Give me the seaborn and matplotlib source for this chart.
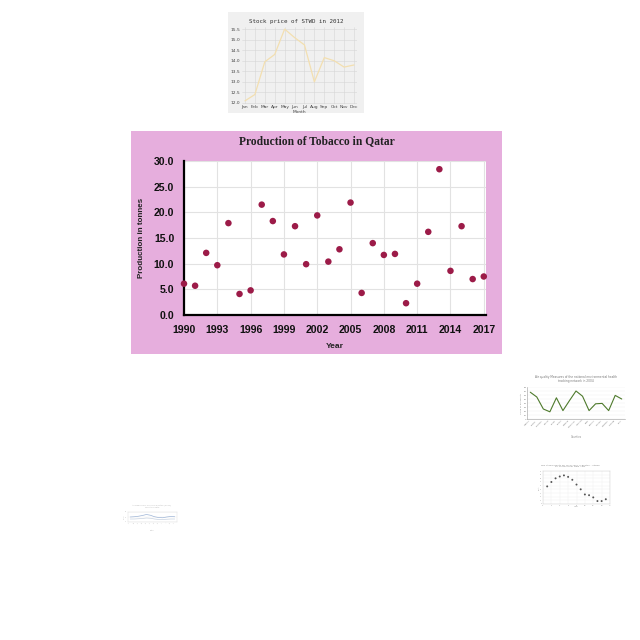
import matplotlib
matplotlib.use("Agg")
import matplotlib.pyplot as plt
import seaborn as sns
import pandas as pd
from matplotlib.patches import Rectangle

# ---------------- data ----------------
years = list(range(1990, 2018))
production = [6.1, 5.7, 12.1, 9.7, 17.9, 4.1, 4.8, 21.5, 18.3, 11.8, 17.3, 9.9,
              19.4, 10.4, 12.8, 21.9, 4.3, 14.0, 11.7, 11.9, 2.3, 6.1, 16.2, 28.4,
              8.6, 17.3, 7.0, 7.5]
year_ticks = [1990, 1993, 1996, 1999, 2002, 2005, 2008, 2011, 2014, 2017]
prod_ticks = [0, 5, 10, 15, 20, 25, 30]

months = ["Jan", "Feb", "Mar", "Apr", "May", "Jun", "Jul", "Aug", "Sep", "Oct", "Nov", "Dec"]
stock = [12.1, 12.4, 13.95, 14.3, 15.5, 15.1, 14.75, 13.0, 14.15, 14.0, 13.7, 13.8]
stock_ticks = [12.0, 12.5, 13.0, 13.5, 14.0, 14.5, 15.0, 15.5]

aq_counties = ["Adams", "Bristol", "Clayton", "Dallas", "Essex", "Fulton", "Greene",
               "Hamilton", "Jackson", "Kent", "Lincoln", "Marion", "Newton", "Orange", "Polk"]
aq_values = [67, 55, 25, 18, 53, 21, 46, 70, 57, 21, 38, 39, 21, 59, 50]

rent_x = list(range(1, 16))
rent_y = [48, 60, 70, 75, 78, 74, 66, 53, 40, 26, 24, 18, 8, 8, 13]

tiny_x = ["A", "B", "C", "D", "E", "F", "G", "H", "I", "J", "K", "L"]
tiny_a = [50, 51, 53, 56, 60, 57, 51, 48, 47, 50, 52, 51]
tiny_b = [42, 42, 43, 44, 46, 45, 42, 40, 40, 41, 42, 42]

# ---------------- figure ----------------
sns.set_theme(style="whitegrid")
plt.rcParams['font.family'] = ['DejaVu Sans']
fig = plt.figure(figsize=(6.4, 6.4), dpi=100)
fig.patch.set_facecolor("white")
W = H = 640.0

def ax_px(x0, y0, x1, y1):
    return fig.add_axes([x0 / W, 1 - y1 / H, (x1 - x0) / W, (y1 - y0) / H])

# ---------------- main chart: Tobacco ----------------
fig.add_artist(Rectangle((131 / W, 1 - 354 / H), 371 / W, 223 / H,
                         transform=fig.transFigure, facecolor="#E6AEDD",
                         edgecolor="none", zorder=0))
ax = ax_px(184, 161, 486, 315)
df = pd.DataFrame({"Year": years, "Production": production})
sns.scatterplot(data=df, x="Year", y="Production", ax=ax, color="#9C1B48",
                s=22, edgecolor="none", clip_on=False, zorder=5)
ax.set_facecolor("white")
ax.set_xlim(1990, 2017.2)
ax.set_ylim(0, 30)
ax.set_xticks(year_ticks)
ax.set_yticks(prod_ticks)
ax.set_xticklabels([str(y) for y in year_ticks], fontsize=7.6, fontweight="heavy",
                   family="Liberation Sans", color="#111111")
ax.set_yticklabels([f"{v:.1f}" for v in prod_ticks], fontsize=7.6, fontweight="heavy",
                   family="Liberation Sans", color="#111111")
ax.tick_params(axis="x", length=0, pad=7)
ax.tick_params(axis="y", length=0, pad=7)
ax.grid(True, color="#E2E2E2", linewidth=0.8)
for s in ["top", "right"]:
    ax.spines[s].set_visible(False)
for s in ["left", "bottom"]:
    ax.spines[s].set_color("black")
    ax.spines[s].set_linewidth(1.6)
ax.set_xlabel("Year", fontsize=6, fontweight="bold", family="Liberation Sans",
              color="#222222", labelpad=6)
ax.set_ylabel("Production in tonnes", fontsize=5.8, fontweight="bold",
              family="Liberation Sans", color="#222222", labelpad=6)
fig.text(317 / W, 1 - 141 / H, "Production of Tobacco in Qatar", ha="center",
         va="center", fontsize=8.3, fontweight="bold", family="Liberation Serif",
         color="#222222")

# ---------------- stock chart ----------------
fig.add_artist(Rectangle((228 / W, 1 - 113 / H), 136 / W, 101 / H,
                         transform=fig.transFigure, facecolor="#F0F0F0",
                         edgecolor="none", zorder=0))
ax2 = ax_px(242, 27, 357, 104)
sdf = pd.DataFrame({"Month": months, "Price": stock})
sns.lineplot(data=sdf, x="Month", y="Price", ax=ax2, color="#F3DFB0", linewidth=0.9, sort=False)
ax2.set_facecolor("#F0F0F0")
ax2.set_ylim(11.95, 15.6)
ax2.set_xlim(-0.3, 11.3)
ax2.set_yticks(stock_ticks)
ax2.set_yticklabels([f"{v:.1f}" for v in stock_ticks], fontsize=3.2, color="#444444")
ax2.set_xticks(range(12))
ax2.set_xticklabels(months, fontsize=3.2, color="#444444")
ax2.tick_params(axis="both", length=0, pad=1)
ax2.grid(True, color="#D6D6D6", linewidth=0.4)
for s in ax2.spines.values():
    s.set_visible(False)
ax2.set_xlabel("Month", fontsize=3.2, color="#444444", labelpad=0.5)
ax2.set_ylabel("")
fig.text(296 / W, 1 - 22 / H, "Stock price of STWD in 2012", ha="center", va="center",
         fontsize=4.2, family="DejaVu Sans Mono", color="#333333")

# ---------------- air quality chart ----------------
ax3 = ax_px(527, 387, 625, 419)
adf = pd.DataFrame({"County": aq_counties, "Value": aq_values})
sns.lineplot(data=adf, x="County", y="Value", ax=ax3, color="#4E7A2C", linewidth=0.8, sort=False)
ax3.set_ylim(0, 80)
ax3.set_xlim(-0.5, 14.5)
ax3.set_yticks([0, 10, 20, 30, 40, 50, 60, 70, 80])
ax3.set_yticklabels([str(v) for v in [0, 10, 20, 30, 40, 50, 60, 70, 80]], fontsize=1.6, color="#777777")
ax3.set_xticks(range(len(aq_counties)))
ax3.set_xticklabels(aq_counties, fontsize=1.6, rotation=45, ha="right", color="#777777")
ax3.tick_params(axis="both", length=0, pad=0.5)
ax3.grid(True, axis="y", color="#EEEEEE", linewidth=0.3)
ax3.grid(False, axis="x")
for s in ["top", "right"]:
    ax3.spines[s].set_visible(False)
for s in ["left", "bottom"]:
    ax3.spines[s].set_color("#999999")
    ax3.spines[s].set_linewidth(0.4)
ax3.set_xlabel("Counties", fontsize=1.8, color="#888888", labelpad=5)
ax3.set_ylabel("Value of air quality", fontsize=1.6, color="#888888", labelpad=1)
fig.text(576 / W, 1 - 379 / H,
         "Air quality Measures of the national environmental health\ntracking network in 2004",
         ha="center", va="center", fontsize=2.1, color="#777777", linespacing=1.2)

# ---------------- scatter chart ----------------
ax4 = ax_px(543, 471, 610, 504)
rdf = pd.DataFrame({"x": rent_x, "y": rent_y})
sns.scatterplot(data=rdf, x="x", y="y", ax=ax4, color="#555555", s=2, edgecolor="none")
ax4.set_xlim(0, 16)
ax4.set_ylim(0, 90)
ax4.set_xticks([0, 2, 4, 6, 8, 10, 12, 14, 16])
ax4.set_xticklabels([str(v) for v in [0, 2, 4, 6, 8, 10, 12, 14, 16]], fontsize=1.4, color="#999999")
ax4.set_yticks(range(0, 91, 10))
ax4.set_yticklabels([str(v) for v in range(0, 91, 10)], fontsize=1.2, color="#999999")
ax4.tick_params(axis="both", length=0, pad=0.5)
ax4.grid(True, color="#EEEEEE", linewidth=0.3)
for s in ax4.spines.values():
    s.set_color("#CCCCCC")
    s.set_linewidth(0.3)
ax4.set_xlabel("Year", fontsize=1.4, color="#999999", labelpad=0.5)
ax4.set_ylabel("Rent", fontsize=1.4, color="#999999", labelpad=0.5)
fig.text(570 / W, 1 - 466 / H,
         "Min Stable Rents for Term: Bay in Boston - Studio\nby 10 bps from New Apts",
         ha="center", va="center", fontsize=1.7, color="#888888", linespacing=1.2)

# ---------------- tiny line chart ----------------
ax5 = ax_px(128, 512, 177, 522)
tdf = pd.DataFrame({"x": tiny_x * 2, "v": tiny_a + tiny_b,
                    "series": ["a"] * len(tiny_x) + ["b"] * len(tiny_x)})
sns.lineplot(data=tdf, x="x", y="v", hue="series", ax=ax5,
             palette=["#9DB4D6", "#C8D2E0"], linewidth=0.5, legend=False, sort=False)
ax5.set_ylim(30, 70)
ax5.set_xticks(range(len(tiny_x)))
ax5.set_xticklabels(tiny_x, fontsize=1.2, rotation=45, ha="right", color="#BBBBBB")
ax5.set_yticks([30, 50, 70])
ax5.set_yticklabels(["30", "50", "70"], fontsize=1.2, color="#BBBBBB")
ax5.tick_params(axis="both", length=0, pad=0.5)
ax5.grid(True, axis="y", color="#F0F0F0", linewidth=0.3)
ax5.grid(False, axis="x")
for s in ax5.spines.values():
    s.set_color("#DDDDDD")
    s.set_linewidth(0.3)
ax5.set_xlabel("Date", fontsize=1.4, color="#BBBBBB", labelpad=4)
ax5.set_ylabel("Value", fontsize=1.2, color="#BBBBBB", labelpad=0.5)
fig.text(152 / W, 1 - 506 / H, "Average daily value in Boston (2013)\nmonthly data",
         ha="center", va="center", fontsize=1.5, color="#BBBBBB", linespacing=1.2)

fig.savefig("out.png", dpi=100, facecolor="white")
